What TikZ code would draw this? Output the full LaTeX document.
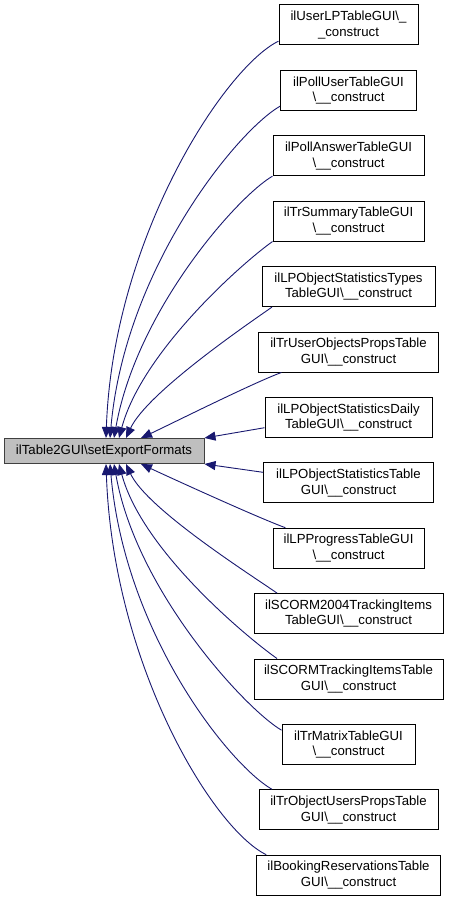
\documentclass[tikz,border=0pt]{standalone}
\usepackage{fontspec}
\setmainfont{Liberation Sans}
\usepackage{tikz}
\usetikzlibrary{arrows.meta, calc}
\definecolor{edgeblue}{HTML}{191970}
\definecolor{mainfill}{HTML}{BFBFBF}
\definecolor{mainline}{HTML}{404040}
\newcommand{\cons}{\textbackslash\_\_construct}
\tikzset{
  fnbox/.style={draw=black, line width=1pt, minimum height=40pt, inner sep=0pt,
                align=center, font=\fontsize{13.2}{15.5}\selectfont},
  mainbox/.style={fnbox, fill=mainfill, draw=mainline, minimum height=25pt,
                  minimum width=200pt},
  edge/.style={edgeblue, line width=0.9pt, -{Triangle[length=11pt,width=9pt]}},
}

\begin{document}
\begin{tikzpicture}[x=1pt,y=1pt]
  \useasboundingbox (0,0) rectangle (451,-901);
  %% --- caller ---
  \node[mainbox] (main) at (104,-451) {ilTable2GUI\textbackslash setExportFormats};
  %% --- constructors, one per row ---
  \foreach \i/\w/\la/\lb in {
      1/139/ilUserLPTableGUI\textbackslash\_/\_construct,
      2/136/ilPollUserTableGUI/\cons,
      3/151/ilPollAnswerTableGUI/\cons,
      4/151/ilTrSummaryTableGUI/\cons,
      5/173/ilLPObjectStatisticsTypes/TableGUI\cons,
      6/180/ilTrUserObjectsPropsTable/GUI\cons,
      7/167/ilLPObjectStatisticsDaily/TableGUI\cons,
      8/170/ilLPObjectStatisticsTable/GUI\cons,
      9/151/ilLPProgressTableGUI/\cons,
      10/189/ilSCORM2004TrackingItems/TableGUI\cons,
      11/189/ilSCORMTrackingItemsTable/GUI\cons,
      12/133/ilTrMatrixTableGUI/\cons,
      13/179/ilTrObjectUsersPropsTable/GUI\cons,
      14/184/ilBookingReservationsTable/GUI\cons} {
    \node[fnbox, minimum width=\w] (b\i) at (348.5,{-25-65.4*(\i-1)}) {\la\\\lb};
  }
  %% --- calls from above ---
  \foreach \i/\a/\o/\ol/\dx/\n/\nl in {1/193/206/60/2/88/200, 2/193/210/50/6/85/170,
      3/195/210/40/10/80/130, 4/195/215/35/15/75/90, 5/195/215/30/22/65/50,
      6/197/200/30/37/25/30} {
    \draw[edge] (b\i.\a) .. controls +(\o:\ol) and +(\n:\nl) .. ($(main.north)+(\dx,0)$);
  }
  %% --- calls from the side ---
  \draw[edge] (b7.187) -- (main.north east);
  \draw[edge] (b8.173) -- (main.south east);
  %% --- calls from below ---
  \foreach \i/\a/\o/\ol/\dx/\n/\nl in {9/162/160/30/37/335/30, 10/164/145/30/22/295/50,
      11/164/145/35/15/285/90, 12/168/150/40/10/280/130, 13/165/150/50/6/275/170,
      14/166/154/60/2/272/200} {
    \draw[edge] (b\i.\a) .. controls +(\o:\ol) and +(\n:\nl) .. ($(main.south)+(\dx,0)$);
  }
\end{tikzpicture}
\end{document}
